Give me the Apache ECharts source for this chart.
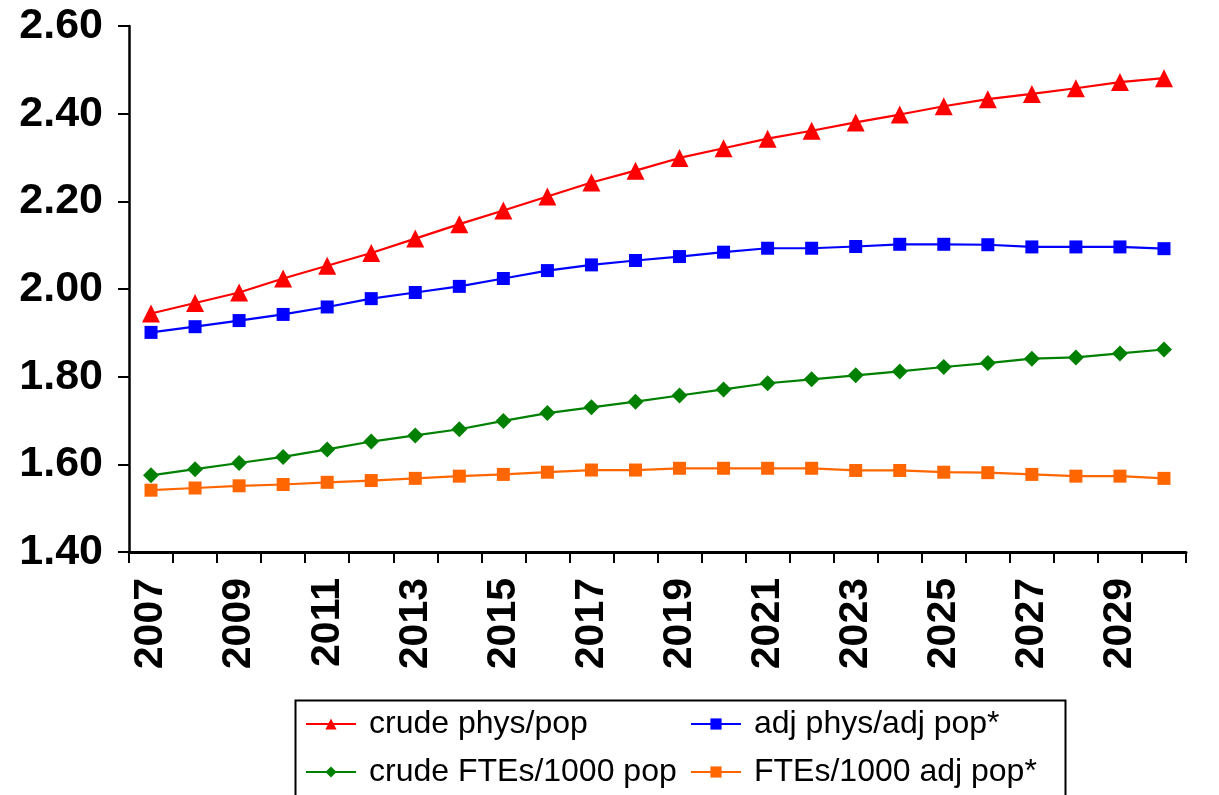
<!DOCTYPE html>
<html>
<head>
<meta charset="utf-8">
<script src="https://cdn.jsdelivr.net/npm/echarts@6/dist/echarts.min.js"></script>
<style>
html,body{margin:0;padding:0;background:#fff;}
#chart{width:1219px;height:795px;}
</style>
</head>
<body>
<div id="chart"></div>
<script>
const years = ['2007','2008','2009','2010','2011','2012','2013','2014','2015','2016','2017','2018','2019','2020','2021','2022','2023','2024','2025','2026','2027','2028','2029','2030'];
const crudePhysPop = [1.944,1.968,1.992,2.024,2.053,2.082,2.115,2.148,2.179,2.211,2.243,2.270,2.299,2.321,2.343,2.361,2.380,2.398,2.417,2.433,2.445,2.458,2.472,2.481];
const adjPhysAdjPop = [1.901,1.914,1.928,1.942,1.959,1.978,1.992,2.006,2.024,2.042,2.055,2.065,2.074,2.084,2.093,2.093,2.097,2.102,2.102,2.101,2.096,2.096,2.096,2.092];
const crudeFtesPop = [1.575,1.589,1.603,1.617,1.634,1.652,1.666,1.680,1.699,1.717,1.730,1.743,1.757,1.771,1.785,1.794,1.803,1.812,1.822,1.831,1.841,1.844,1.853,1.862];
const ftesAdjPop = [1.541,1.546,1.551,1.554,1.559,1.563,1.568,1.573,1.577,1.582,1.587,1.587,1.591,1.591,1.591,1.591,1.586,1.586,1.582,1.581,1.577,1.573,1.573,1.568];
const seriesNames = ['crude phys/pop','adj phys/adj pop*','crude FTEs/1000 pop','FTEs/1000 adj pop*'];
const yMin = 1.4, yMax = 2.6, yStep = 0.2;

const FONT = "'Liberation Sans', Arial, sans-serif";
const chart = echarts.init(document.getElementById('chart'), null, {renderer:'canvas'});

function lineSeries(name, data, color, symbol, size) {
  return {
    name, type:'line', data,
    symbol, symbolSize: size,
    lineStyle:{color, width:2.2},
    itemStyle:{color},
    animation:false
  };
}

const legendCommon = {
  orient:'vertical', top:708, padding:0, itemGap:16,
  itemWidth:50, itemHeight:14,
  textStyle:{fontFamily:FONT, fontSize:32, color:'#000', padding:[0,0,0,8]}
};

chart.setOption({
  backgroundColor:'#fff',
  animation:false,
  grid:{left:129, right:33, top:26, bottom:243, containLabel:false},
  xAxis:{
    type:'category', data:years, boundaryGap:true,
    axisLine:{lineStyle:{color:'#000', width:3}},
    axisTick:{show:true, inside:false, length:11, interval:0, alignWithLabel:false, lineStyle:{color:'#000', width:2}},
    axisLabel:{interval:1, rotate:90, margin:26, fontFamily:FONT, fontSize:41, fontWeight:'bold', color:'#000'}
  },
  yAxis:{
    type:'value', min:yMin, max:yMax, interval:yStep,
    splitLine:{show:false},
    axisLine:{show:true, lineStyle:{color:'#000', width:2.5}},
    axisTick:{show:true, length:11, lineStyle:{color:'#000', width:2}},
    axisLabel:{margin:26, fontFamily:FONT, fontSize:43, fontWeight:'bold', color:'#000', formatter:v=>v.toFixed(2)}
  },
  legend:[
    Object.assign({left:305, data:[seriesNames[0], seriesNames[2]]}, legendCommon),
    Object.assign({left:690, data:[seriesNames[1], seriesNames[3]]}, legendCommon)
  ],
  graphic:[{
    type:'rect', left:293, top:698, silent:true,
    shape:{width:770, height:120},
    style:{fill:'none', stroke:'#000', lineWidth:2}
  }],
  series:[
    lineSeries(seriesNames[0], crudePhysPop, '#FF0000', 'triangle', 18),
    lineSeries(seriesNames[1], adjPhysAdjPop, '#0000FF', 'rect', 13),
    lineSeries(seriesNames[2], crudeFtesPop, '#008000', 'diamond', 16),
    lineSeries(seriesNames[3], ftesAdjPop, '#FF6600', 'rect', 13)
  ]
});
</script>
</body>
</html>
